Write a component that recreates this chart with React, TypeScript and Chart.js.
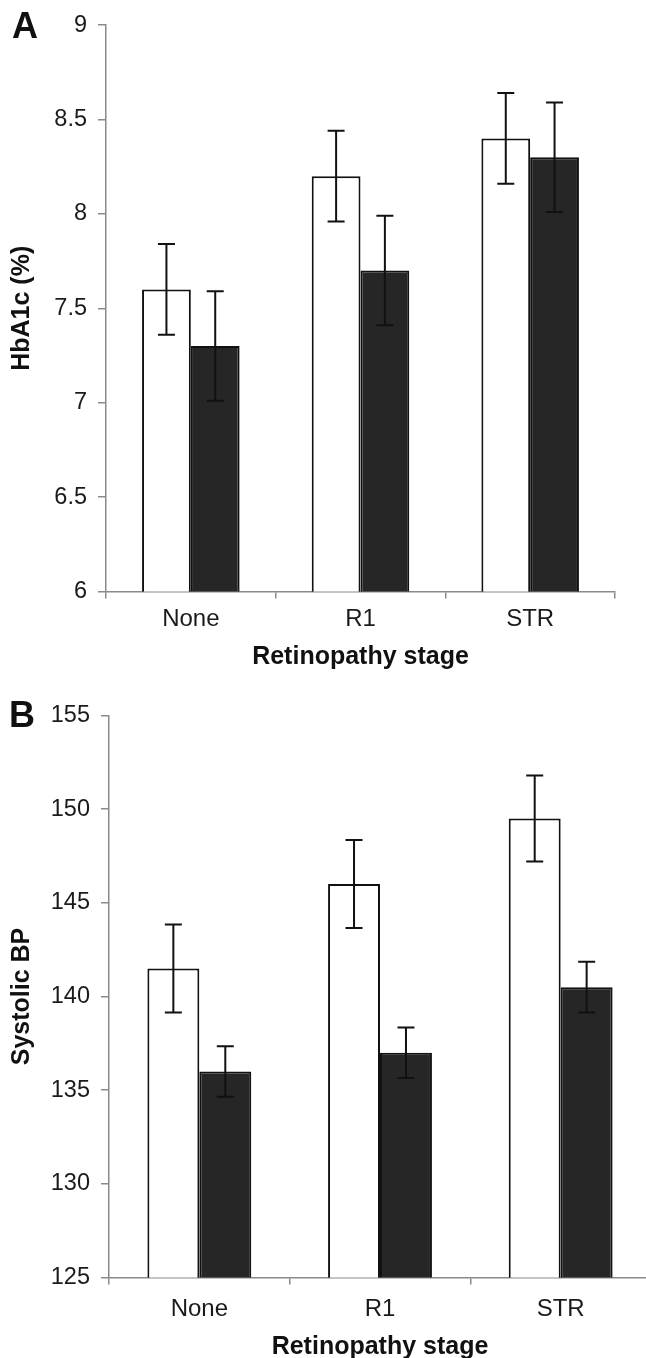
import React, { useEffect, useRef } from "react";
import { Chart, registerables } from "chart.js";

Chart.register(...registerables);

const FONT = "'Liberation Sans', Arial, Helvetica, sans-serif";

// ---- data ----
const categories = ["None", "R1", "STR"];

const hba1cWhite = [7.6, 8.2, 8.4];
const hba1cWhiteErr = [0.24, 0.24, 0.24];
const hba1cBlack = [7.3, 7.7, 8.3];
const hba1cBlackErr = [0.29, 0.29, 0.29];
const hba1cTicks = [6, 6.5, 7, 7.5, 8, 8.5, 9];

const sbpWhite = [141.5, 146, 149.5];
const sbpWhiteErr = [2.35, 2.35, 2.3];
const sbpBlack = [136, 137, 140.5];
const sbpBlackErr = [1.35, 1.35, 1.35];
const sbpTicks = [125, 130, 135, 140, 145, 150, 155];

const xTitle = "Retinopathy stage";

const errorBarPlugin = {
  id: "errorBars",
  afterDatasetsDraw(chart: any) {
    const ctx = chart.ctx;
    const y = chart.scales.y;
    chart.data.datasets.forEach((ds: any, i: number) => {
      const meta = chart.getDatasetMeta(i);
      meta.data.forEach((bar: any, j: number) => {
        const v = ds.data[j];
        const e = ds.errors[j];
        const top = y.getPixelForValue(v + e);
        const bot = y.getPixelForValue(v - e);
        const cap = 8.5;
        ctx.save();
        ctx.strokeStyle = "#111";
        ctx.lineWidth = 2;
        ctx.beginPath();
        ctx.moveTo(bar.x, top);
        ctx.lineTo(bar.x, bot);
        ctx.moveTo(bar.x - cap, top);
        ctx.lineTo(bar.x + cap, top);
        ctx.moveTo(bar.x - cap, bot);
        ctx.lineTo(bar.x + cap, bot);
        ctx.stroke();
        ctx.restore();
      });
    });
  },
};

type PanelProps = {
  top: number;
  width: number;
  height: number;
  white: number[];
  whiteErr: number[];
  black: number[];
  blackErr: number[];
  ticks: number[];
  yTitle: string;
  pad: { top: number; right: number };
  yWidth: number;
  xHeight: number;
  xTickPad: number;
  titlePadBottom: number;
};

function Panel(p: PanelProps) {
  const ref = useRef<HTMLCanvasElement>(null);
  useEffect(() => {
    if (!ref.current) return;
    const axisColor = "#8a8a8a";
    const chart = new Chart(ref.current, {
      type: "bar",
      data: {
        labels: categories,
        datasets: [
          {
            data: p.white,
            errors: p.whiteErr,
            backgroundColor: "#ffffff",
            borderColor: "#111",
            borderWidth: 2,
            categoryPercentage: 0.575,
            barPercentage: 1,
          } as any,
          {
            data: p.black,
            errors: p.blackErr,
            backgroundColor: "#262626",
            borderColor: "#111",
            borderWidth: 2,
            categoryPercentage: 0.575,
            barPercentage: 1,
          } as any,
        ],
      },
      options: {
        animation: false,
        responsive: false,
        layout: { padding: { top: p.pad.top, right: p.pad.right, left: 0, bottom: 0 } },
        plugins: { legend: { display: false }, tooltip: { enabled: false } },
        scales: {
          x: {
            afterFit: (s: any) => {
              s.height = p.xHeight;
            },
            grid: {
              display: true,
              offset: true,
              drawOnChartArea: false,
              drawTicks: true,
              tickLength: 7,
              color: axisColor,
              lineWidth: 1.5,
            },
            border: { display: true, color: axisColor, width: 1.5 },
            ticks: {
              color: "#1a1a1a",
              font: { family: FONT, size: 24 },
              padding: p.xTickPad,
            },
            title: {
              display: true,
              text: xTitle,
              color: "#111",
              font: { family: FONT, size: 25, weight: "bold" },
              padding: { top: 0, bottom: p.titlePadBottom },
            },
          },
          y: {
            min: p.ticks[0],
            max: p.ticks[p.ticks.length - 1],
            afterFit: (s: any) => {
              s.width = p.yWidth;
            },
            afterBuildTicks: (s: any) => {
              s.ticks = p.ticks.map((v) => ({ value: v }));
            },
            grid: {
              display: true,
              drawOnChartArea: false,
              drawTicks: true,
              tickLength: 8,
              color: axisColor,
              lineWidth: 1.5,
            },
            border: { display: true, color: axisColor, width: 1.5 },
            ticks: {
              color: "#1a1a1a",
              font: { family: FONT, size: 23.5 },
              padding: 11,
              callback: (v: any) => String(v),
            },
            title: {
              display: true,
              text: p.yTitle,
              color: "#111",
              font: { family: FONT, size: 25, weight: "bold" },
              padding: { top: 7, bottom: 0 },
            },
          },
        },
      } as any,
      plugins: [errorBarPlugin],
    });
    return () => chart.destroy();
  }, []);
  return (
    <canvas
      ref={ref}
      width={p.width}
      height={p.height}
      style={{ position: "absolute", left: 0, top: p.top, width: p.width, height: p.height }}
    />
  );
}

const letterStyle: React.CSSProperties = {
  position: "absolute",
  fontFamily: FONT,
  fontWeight: "bold",
  fontSize: 36,
  lineHeight: "36px",
  color: "#111",
};

export default function App() {
  return (
    <div
      style={{
        position: "absolute",
        left: 0,
        top: 0,
        width: 646,
        height: 1358,
        overflow: "hidden",
        background: "#fff",
      }}
    >
      <Panel
        top={0}
        width={646}
        height={680}
        white={hba1cWhite}
        whiteErr={hba1cWhiteErr}
        black={hba1cBlack}
        blackErr={hba1cBlackErr}
        ticks={hba1cTicks}
        yTitle="HbA1c (%)"
        pad={{ top: 23.5, right: 31 }}
        yWidth={106}
        xHeight={88.5}
        xTickPad={6}
        titlePadBottom={8}
      />
      <Panel
        top={680}
        width={680}
        height={690}
        white={sbpWhite}
        whiteErr={sbpWhiteErr}
        black={sbpBlack}
        blackErr={sbpBlackErr}
        ticks={sbpTicks}
        yTitle="Systolic BP"
        pad={{ top: 35.5, right: 29 }}
        yWidth={109}
        xHeight={92.5}
        xTickPad={10.5}
        titlePadBottom={8}
      />
      <span style={{ ...letterStyle, left: 12, top: 8 }}>A</span>
      <span style={{ ...letterStyle, left: 9, top: 697 }}>B</span>
    </div>
  );
}
